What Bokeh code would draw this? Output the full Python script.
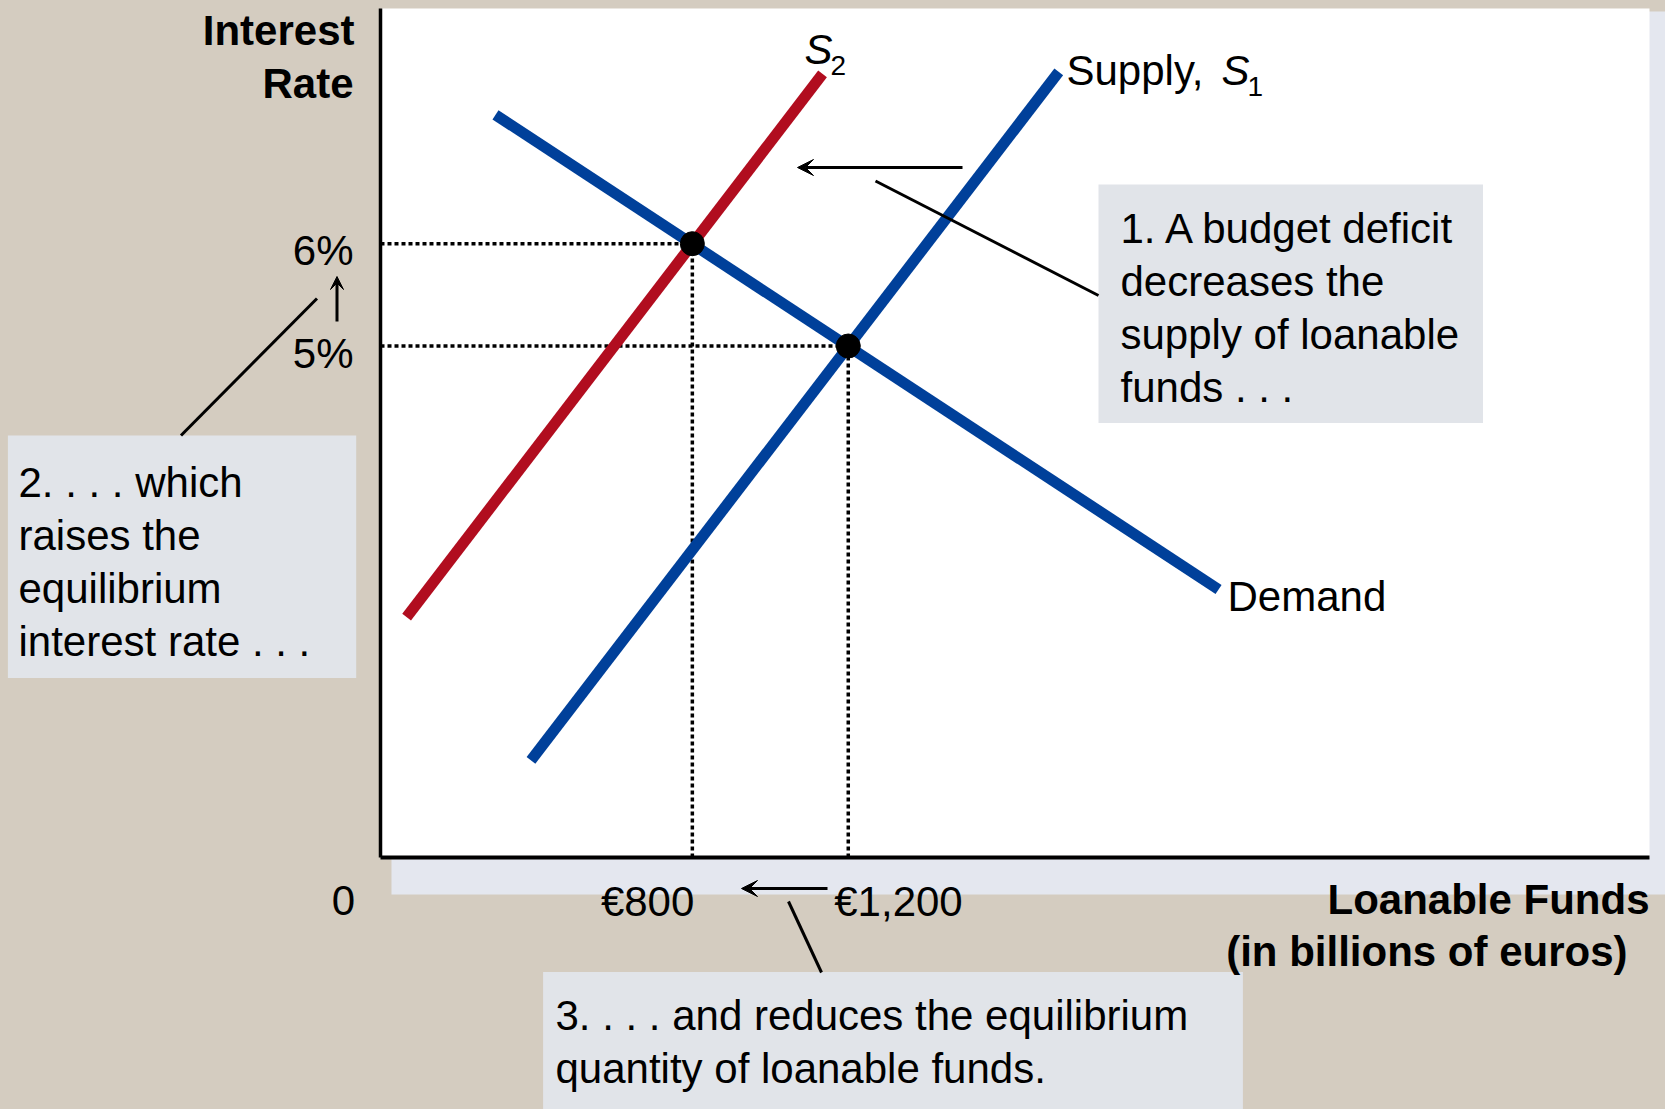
from bokeh.plotting import figure
from bokeh.models import Range1d, Arrow, VeeHead
from bokeh.embed import file_html
from bokeh.resources import INLINE
from bokeh.core.properties import value

# ---------------- data (billions of euros, interest rate in %) ----------------
demand_q = [295, 2150]
demand_r = [7.26, 2.62]
supply1_q = [386, 1740]
supply1_r = [0.95, 7.68]
supply2_q = [67, 1134]
supply2_r = [2.35, 7.66]
eq_q = [1200, 800]          # original -> new equilibrium quantity
eq_r = [5, 6]               # original -> new equilibrium interest rate
rate_tick_labels = ["5%", "6%"]
qty_tick_labels = ["€1,200", "€800"]

box1_lines = ["1. A budget deficit", "decreases the", "supply of loanable", "funds . . ."]
box2_lines = ["2. . . . which", "raises the", "equilibrium", "interest rate . . ."]
box3_lines = ["3. . . . and reduces the equilibrium", "quantity of loanable funds."]

# ---------------- layout ----------------
W, H = 1665, 1109
OFF = 0                      # page offset of the canvas
X0_PX, PX_PER_Q = 380.0, 0.3898
Y0_PX, PX_PER_R = 857.0, 102.3

def qx(X):
    return (X - X0_PX) / PX_PER_Q

def ry(Y):
    return (Y0_PX - Y) / PX_PER_R

def tdy(size):
    # vertical correction of the alphabetic baseline, proportional to font size
    return -size / 3.0

BEIGE = "#D4CCC0"
PANEL = "#E4E7EF"
BOXC = "#E1E4E9"
BLUE = "#00409A"
RED = "#B10D1F"
FONT = value("Liberation Sans")

p = figure(width=W, height=H, output_backend="svg", toolbar_location=None,
           x_range=Range1d(qx(OFF), qx(OFF + W)), y_range=Range1d(ry(OFF + H), ry(OFF)),
           x_axis_type=None, y_axis_type=None, min_border=0,
           background_fill_color=BEIGE, border_fill_color=BEIGE)
p.outline_line_color = None
p.grid.visible = False

# shadow panel and white plotting area
p.quad(left=qx(391), right=qx(1720), top=ry(11), bottom=ry(894), fill_color=PANEL, line_color=None)
p.quad(left=qx(381), right=qx(1649), top=ry(8), bottom=ry(857), fill_color="white", line_color=None)

# axes
p.segment(x0=[0], y0=[0], x1=[0], y1=[ry(8)], line_color="black", line_width=3.5)
p.segment(x0=[0], y0=[0], x1=[qx(1649)], y1=[0], line_color="black", line_width=4)

# dotted guides from equilibria
p.segment(x0=[0] * len(eq_q), y0=eq_r, x1=eq_q, y1=eq_r, line_color="black",
          line_width=3.5, line_dash="4 3")
p.segment(x0=eq_q, y0=[0] * len(eq_q), x1=eq_q, y1=eq_r, line_color="black",
          line_width=3.5, line_dash="4 3")

# curves
p.line(supply2_q, supply2_r, line_color=RED, line_width=11, line_cap="butt")
p.line(demand_q, demand_r, line_color=BLUE, line_width=11, line_cap="butt")
p.line(supply1_q, supply1_r, line_color=BLUE, line_width=11, line_cap="butt")
p.scatter(eq_q, eq_r, size=24, color="black")

# annotation boxes
p.quad(left=[qx(1098), qx(7.4), qx(542.6)], right=[qx(1482.5), qx(355.7), qx(1242.4)],
       top=[ry(184), ry(435), ry(971.6)], bottom=[ry(422.5), ry(677.5), ry(1125)],
       fill_color=BOXC, line_color=None)


def txt(X, Y, s, size=42, style="normal", align="left"):
    p.text(x=[qx(X)], y=[ry(Y + tdy(size))], text=[s], text_font=FONT,
           text_font_size=f"{size}px", text_font_style=style, text_align=align,
           text_baseline="alphabetic", text_color="black")

# box texts
for i, s in enumerate(box1_lines):
    txt(1120, 242 + 53 * i, s)
for i, s in enumerate(box2_lines):
    txt(18, 496 + 53 * i, s)
for i, s in enumerate(box3_lines):
    txt(555, 1029 + 53 * i, s)

# axis titles
txt(354, 44, "Interest", style="bold", align="right")
txt(353, 97, "Rate", style="bold", align="right")
txt(1649, 913, "Loanable Funds", style="bold", align="right")
txt(1627, 965, "(in billions of euros)", style="bold", align="right")

# tick labels (positioned from the equilibrium values)
p.text(x=[qx(353)] * 2, y=[r - (21 + tdy(42)) / PX_PER_R for r in eq_r], text=rate_tick_labels,
       text_font=FONT, text_font_size="42px", text_align="right", text_baseline="alphabetic",
       text_color="black")
p.text(x=[eq_q[0] - 14 / PX_PER_Q], y=[ry(915 + tdy(42))], text=[qty_tick_labels[0]],
       text_font=FONT, text_font_size="42px", text_align="left", text_baseline="alphabetic",
       text_color="black")
p.text(x=[eq_q[1] + 2 / PX_PER_Q], y=[ry(915 + tdy(42))], text=[qty_tick_labels[1]],
       text_font=FONT, text_font_size="42px", text_align="right", text_baseline="alphabetic",
       text_color="black")
txt(343, 914, "0", align="center")

# curve labels
txt(1227, 610, "Demand")
txt(804, 63, "S", style="italic")
txt(830, 74, "2", size=28)
txt(1066, 84, "Supply,")
txt(1221, 84, "S", style="italic")
txt(1247, 95, "1", size=28)

# leader lines
p.segment(x0=[qx(875), qx(316.5), qx(788)], y0=[ry(180.5), ry(298), ry(901)],
          x1=[qx(1098), qx(180.5), qx(821)], y1=[ry(295), ry(435), ry(972)],
          line_color="black", line_width=3)

# arrows
for (xs, ys, xe, ye, sz) in [(962, 167, 797, 167, 16), (336.5, 321, 336.5, 276, 13),
                              (827, 888, 741, 888, 16)]:
    p.add_layout(Arrow(end=VeeHead(size=sz, fill_color="black", line_color="black", line_width=1),
                       x_start=qx(xs), y_start=ry(ys), x_end=qx(xe), y_end=ry(ye),
                       line_color="black", line_width=3))

TEMPLATE = "{% block preamble %}<style>html, body { background: #D4CCC0; }</style>{% endblock %}"
open("out.html", "w").write(file_html(p, INLINE, template=TEMPLATE))
